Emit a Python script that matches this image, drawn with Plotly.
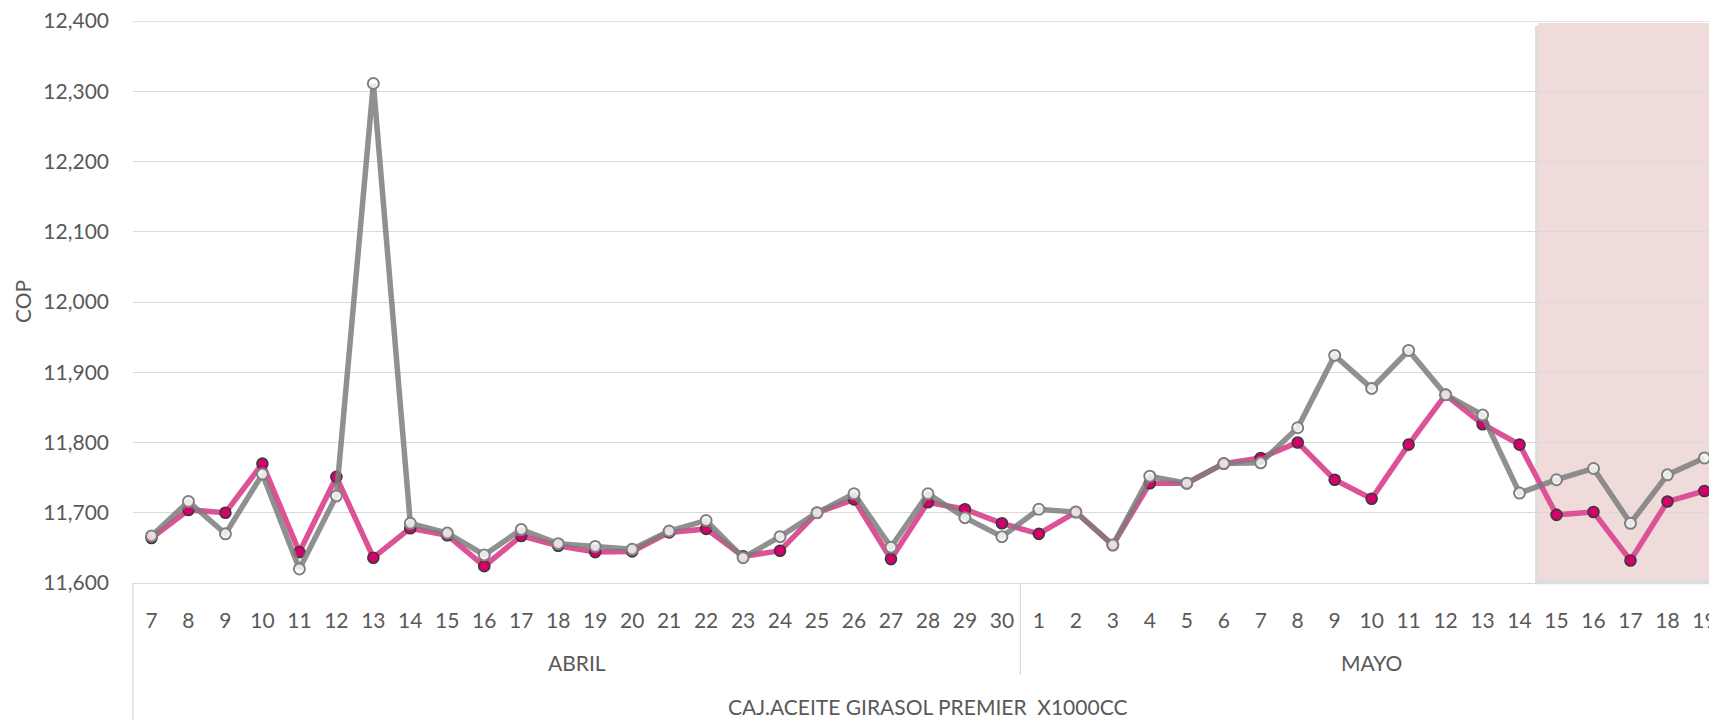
import plotly.graph_objects as go

months = ["ABRIL"] * 24 + ["MAYO"] * 19
days = [str(d) for d in range(7, 31)] + [str(d) for d in range(1, 20)]

serie_rosa = [11664, 11704, 11700, 11770, 11644, 11751, 11636, 11678, 11668, 11624,
              11667, 11653, 11644, 11645, 11672, 11677, 11638, 11646, 11700, 11719,
              11634, 11715, 11705, 11685,
              11670, 11701, 11654, 11742, 11742, 11770, 11778, 11800, 11747, 11720,
              11797, 11868, 11826, 11797, 11697, 11701, 11632, 11716, 11731]
serie_gris = [11667, 11716, 11670, 11755, 11620, 11724, 12311, 11685, 11671, 11640,
              11676, 11656, 11652, 11648, 11674, 11689, 11636, 11666, 11700, 11727,
              11651, 11727, 11693, 11666,
              11705, 11701, 11654, 11752, 11742, 11770, 11771, 11821, 11924, 11877,
              11931, 11868, 11839, 11728, 11747, 11763, 11685, 11754, 11778]

product = "CAJ.ACEITE GIRASOL PREMIER  X1000CC"
y_title = "COP"
shade_start_index = 37.5  # between MAYO 14 and MAYO 15

FONT = "Lato"
TXT = "#595959"
GRID = "#d9d9d9"
FS = 21

OFF = 8  # page body margin
W, H = 1717 - OFF, 720 - OFF
ML, MR, MT, MB = 133 - OFF, 0, 21 - OFF, 720 - 583
PW, PH = W - ML - MR, H - MT - MB
n = len(days)
xr = [-0.5, n - 0.66]
yr = [11600, 12400]

keys = [f"{m} {d}" for m, d in zip(months, days)]

def xpaper(v):
    return (v - xr[0]) / (xr[1] - xr[0])

def ypaper_px(py):  # page pixel row -> paper y
    return (MT + PH - (py - OFF)) / PH

def xpaper_px(px):  # page pixel column -> paper x
    return ((px - OFF) - ML) / PW

fig = go.Figure()
fig.add_trace(go.Scatter(
    x=keys, y=serie_rosa, mode="lines+markers",
    line=dict(color="rgb(221,82,150)", width=5.5),
    marker=dict(size=11, color="rgb(212,0,108)", line=dict(color="#3a3a3a", width=1.6)),
    showlegend=False,
))
fig.add_trace(go.Scatter(
    x=keys, y=serie_gris, mode="lines+markers",
    line=dict(color="rgba(125,125,125,0.85)", width=5.5),
    marker=dict(size=11, color="rgba(255,255,255,0.8)", line=dict(color="#808080", width=2)),
    showlegend=False,
))

# shaded box with soft shadow
sx0 = xpaper(shade_start_index)
top = (12397 - yr[0]) / (yr[1] - yr[0])
bot = (11604 - yr[0]) / (yr[1] - yr[0])
fig.add_shape(type="rect", xref="paper", yref="paper",
              x0=sx0 - 3 / PW, x1=1.05, y0=bot - 4 / PH, y1=top - 3 / PH,
              fillcolor="rgba(0,0,0,0.13)", line=dict(width=0), layer="below")
fig.add_shape(type="rect", xref="paper", yref="paper",
              x0=sx0, x1=1.05, y0=bot, y1=top,
              fillcolor="rgb(240,219,219)", line=dict(width=0), layer="below")

# top gridline (range end)
fig.add_shape(type="line", xref="paper", yref="y", x0=0, x1=1, y0=yr[1], y1=yr[1],
              line=dict(color=GRID, width=1.3), layer="below")

# category-axis dividers
fig.add_shape(type="line", xref="paper", yref="paper", x0=0, x1=0,
              y0=0, y1=ypaper_px(725), line=dict(color=GRID, width=1.3))
split = months.index("MAYO") - 0.5
fig.add_shape(type="line", xref="paper", yref="paper", x0=xpaper(split), x1=xpaper(split),
              y0=0, y1=ypaper_px(675), line=dict(color=GRID, width=1.3))

# month group labels
for m in ["ABRIL", "MAYO"]:
    idx = [i for i, mm in enumerate(months) if mm == m]
    c = (idx[0] + idx[-1]) / 2
    fig.add_annotation(text=m, xref="paper", yref="paper", x=xpaper(c), y=ypaper_px(662),
                       xanchor="center", yanchor="middle", showarrow=False,
                       font=dict(family=FONT, size=FS, color=TXT))

fig.add_annotation(text=product, xref="paper", yref="paper",
                   x=xpaper((n - 1) / 2), y=ypaper_px(706), xanchor="center", yanchor="middle",
                   showarrow=False, font=dict(family=FONT, size=FS, color=TXT))

# y-axis title
fig.add_annotation(text=y_title, xref="paper", yref="paper", x=xpaper_px(22), y=ypaper_px(302),
                   xanchor="center", yanchor="middle", textangle=-90, showarrow=False,
                   font=dict(family=FONT, size=FS, color=TXT))

fig.update_layout(
    width=W, height=H,
    margin=dict(l=ML, r=MR, t=MT, b=MB, pad=0, autoexpand=False),
    paper_bgcolor="white", plot_bgcolor="white",
    font=dict(family=FONT, size=FS, color=TXT),
    xaxis=dict(type="category", categoryorder="array", categoryarray=keys,
               tickvals=keys, ticktext=days, range=xr, automargin=False,
               showgrid=False, zeroline=False,
               showline=True, linecolor=GRID, linewidth=1.3,
               ticks="", ticklabelstandoff=19, ticklabeloverflow="allow",
               tickfont=dict(family=FONT, size=FS, color=TXT)),
    yaxis=dict(range=yr, dtick=100, tickformat=",", showgrid=True, gridcolor=GRID,
               gridwidth=1.3, zeroline=False, showline=False, ticks="", automargin=False,
               ticklabelstandoff=23, ticklabeloverflow="allow",
               tickfont=dict(family=FONT, size=FS, color=TXT)),
)

fig.write_html("out.html")
